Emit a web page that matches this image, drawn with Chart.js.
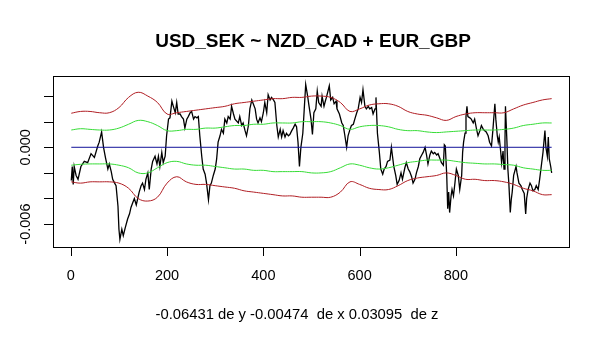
<!DOCTYPE html>
<html lang="es">
<head>
<meta charset="UTF-8">
<title>USD_SEK ~ NZD_CAD + EUR_GBP</title>
<script src="https://cdn.jsdelivr.net/npm/chart.js"></script>
<style>
	body { margin: 0; background: #fff; }
	#wrap { width: 593px; height: 343px; }
</style>
</head>
<body>
<div id="wrap"><canvas id="myChart" width="593" height="343"></canvas></div>
<script>
// texts
const titleText = 'USD_SEK ~ NZD_CAD + EUR_GBP';
const subText = '-0.06431 de y -0.00474  de x 0.03095  de z';

// axis ticks
const xTicks = [0, 200, 400, 600, 800];
const yTicks = [-0.006, -0.004, -0.002, 0, 0.002, 0.004];
const yLabels = ['-0.006', '', '', '0.000', '', ''];

// residual series (index, value)
const resX = [1,3,5,7,11,15,21,28,35,42,49,56,59,64,68,72,77,80,84,87,91,94,98,100,102,106,109,113,118,122,125,129,132,136,139,142,146,149,153,156,160,163,167,170,175,
	179,182,185,189,192,196,199,203,206,210,213,217,220,223,227,230,234,237,241,244,248,251,255,258,262,265,268,272,275,279,282,286,289,292,296,300,303,306,310,313,317,320,324,327,331,334,338,341,348,
	351,355,358,362,365,369,372,376,379,383,386,389,393,396,400,403,407,410,414,417,421,424,428,431,435,438,441,445,448,452,455,459,462,466,469,472,475,478,482,485,488,492,495,499,502,505,509,512,515,520,522,526,
	528,531,537,540,544,547,551,553,558,563,566,569,573,576,580,583,587,590,594,597,601,604,607,611,614,618,621,625,628,632,634,637,641,644,648,651,655,658,663,666,668,671,675,678,682,686,689,694,697,701,704,
	708,711,715,718,722,725,729,732,736,739,742,746,749,753,756,760,763,767,770,774,776,778,781,783,785,787,790,792,795,798,801,805,808,812,814,816,819,821,823,825,829,832,836,839,843,846,850,853,857,860,863,867,870,874,877,
	881,883,886,888,890,893,895,898,900,902,903,906,908,910,913,915,917,920,925,927,931,935,938,942,945,947,950,954,957,960,964,967,971,974,978,981,985,987,990,992,994,997,999];
const resY = [-0.0026,-0.0015,-0.0029,-0.0015,-0.0022,-0.0025,-0.0015,-0.0011,-0.0012,-0.0005,-0.0008,0.0001,0.0004,0.0012,0.0000,-0.0008,-0.0017,-0.0013,-0.0019,-0.0025,-0.0028,-0.0030,-0.0046,-0.0064,-0.0072,-0.0064,-0.0069,-0.0063,-0.0056,-0.0052,-0.0047,-0.0043,-0.0040,-0.0045,-0.0040,-0.0035,-0.0030,-0.0028,-0.0033,-0.0025,-0.0020,-0.0033,-0.0017,-0.0011,-0.0007,
	-0.0013,-0.0007,-0.0015,-0.0004,-0.0012,-0.0007,0.0009,0.0022,0.0023,0.0036,0.0032,0.0027,0.0035,0.0026,0.0026,0.0024,0.0022,0.0015,0.0022,0.0024,0.0027,0.0028,0.0022,0.0024,0.0023,0.0024,0.0009,-0.0007,-0.0017,-0.0021,-0.0028,-0.0041,-0.0030,-0.0028,-0.0022,-0.0017,-0.0009,0.0004,0.0009,0.0014,0.0011,0.0022,0.0019,0.0024,0.0022,0.0032,0.0026,0.0022,0.0019,
	0.0024,0.0017,0.0019,0.0013,0.0009,0.0017,0.0030,0.0037,0.0034,0.0030,0.0022,0.0019,0.0023,0.0020,0.0027,0.0035,0.0027,0.0041,0.0037,0.0039,0.0037,0.0035,0.0017,0.0008,0.0014,0.0008,0.0013,0.0008,0.0011,0.0009,0.0010,0.0013,0.0015,0.0018,0.0016,0.0004,-0.0015,0.0000,0.0011,0.0030,0.0049,0.0040,0.0032,0.0022,0.0010,0.0027,0.0030,0.0044,0.0035,0.0032,0.0040,0.0032,
	0.0035,0.0039,0.0048,0.0037,0.0039,0.0034,0.0036,0.0030,0.0026,0.0019,0.0017,0.0010,0.0000,0.0009,0.0014,0.0017,0.0018,0.0022,0.0027,0.0030,0.0039,0.0035,0.0045,0.0032,0.0030,0.0032,0.0030,0.0031,0.0026,0.0030,0.0039,0.0011,-0.0004,-0.0017,-0.0021,-0.0017,-0.0015,-0.0011,-0.0010,0.0000,-0.0006,-0.0015,-0.0022,-0.0029,-0.0026,-0.0020,-0.0025,-0.0016,-0.0012,-0.0017,-0.0019,
	-0.0023,-0.0028,-0.0025,-0.0020,-0.0015,-0.0009,-0.0006,-0.0004,0.0000,-0.0006,-0.0013,-0.0006,-0.0003,-0.0005,-0.0004,-0.0006,-0.0005,-0.0009,-0.0012,-0.0014,0.0002,0.0001,-0.0022,-0.0048,-0.0035,-0.0051,-0.0038,-0.0033,-0.0038,-0.0028,-0.0017,-0.0022,-0.0033,-0.0022,-0.0004,0.0004,0.0011,0.0024,0.0032,0.0024,0.0023,0.0022,0.0019,0.0022,0.0014,0.0009,0.0013,0.0017,0.0014,0.0013,0.0012,0.0009,0.0004,0.0001,0.0014,
	0.0034,0.0022,0.0009,0.0004,0.0008,-0.0003,-0.0012,-0.0003,-0.0017,0.0005,0.0032,0.0005,-0.0017,-0.0028,-0.0051,-0.0041,-0.0035,-0.0022,-0.0015,-0.0020,-0.0028,-0.0030,-0.0033,-0.0036,-0.0052,-0.0040,-0.0033,-0.0028,-0.0030,-0.0034,-0.0033,-0.0030,-0.0033,-0.0025,-0.0013,-0.0004,0.0013,0.0000,-0.0007,0.0008,-0.0009,-0.0015,-0.0020];

// bands, sampled on a common index grid
const bandX = [1,20,40,60,80,100,120,140,160,180,200,220,240,260,280,300,320,340,360,380,400,420,440,460,480,500,520,540,560,580,600,620,640,660,680,700,720,740,760,780,800,820,840,860,880,900,920,940,960,980,999];
const redUpper = [0.00266,0.0028,0.0028,0.0027,0.0027,0.0031,0.0039,0.0043,0.0040,0.0035,0.0026,0.0027,0.0028,0.0029,0.0030,0.0031,0.0032,0.0034,0.0035,0.0036,0.0037,0.0038,0.0038,0.0039,0.0039,0.0040,0.0040,0.0039,0.0035,0.0028,0.0030,0.0033,0.0034,0.0034,0.0032,0.0028,0.0026,0.0025,0.0023,0.0021,0.0024,0.0026,0.0027,0.0027,0.0027,0.0027,0.0030,0.0033,0.0035,0.0037,0.0038];
const greenUpper = [0.00135,0.00145,0.0014,0.00135,0.00135,0.0015,0.0018,0.0021,0.0020,0.0017,0.0013,0.0013,0.0014,0.0014,0.0015,0.0015,0.0016,0.0017,0.0017,0.0018,0.0018,0.0019,0.0019,0.0019,0.0020,0.0020,0.0020,0.0019,0.0017,0.0014,0.0016,0.0017,0.0017,0.0016,0.0014,0.0013,0.0013,0.0012,0.00115,0.0012,0.00125,0.0013,0.00135,0.00135,0.00135,0.0014,0.0015,0.0017,0.0018,0.0019,0.0019];
const greenLower = [-0.0014,-0.00133,-0.0013,-0.0013,-0.0013,-0.0014,-0.0016,-0.0020,-0.0020,-0.0016,-0.0012,-0.0011,-0.0013,-0.0014,-0.0014,-0.0015,-0.0016,-0.0017,-0.0017,-0.0018,-0.0018,-0.0019,-0.0019,-0.0019,-0.0019,-0.0020,-0.0020,-0.0019,-0.0016,-0.0013,-0.0014,-0.0016,-0.0017,-0.0016,-0.0014,-0.0012,-0.0011,-0.0010,-0.0010,-0.0010,-0.0011,-0.0012,-0.00125,-0.0013,-0.0013,-0.00135,-0.0014,-0.0016,-0.0017,-0.0018,-0.0018];
const redLower = [-0.0027,-0.0028,-0.0027,-0.0027,-0.0027,-0.0028,-0.0032,-0.0040,-0.0042,-0.0039,-0.0028,-0.0023,-0.0027,-0.0029,-0.0029,-0.0030,-0.0031,-0.0032,-0.0034,-0.0035,-0.0036,-0.0037,-0.0038,-0.0038,-0.0039,-0.0039,-0.0039,-0.0039,-0.0035,-0.0027,-0.0029,-0.0032,-0.0033,-0.0033,-0.0030,-0.0026,-0.0024,-0.0023,-0.0022,-0.0020,-0.0022,-0.0025,-0.0025,-0.0026,-0.0026,-0.0027,-0.0029,-0.0032,-0.0034,-0.0037,-0.0037];

// zero line
const zeroX = [1, 999];
const zeroY = [0, 0];

const font = '"Liberation Sans", Arial, sans-serif';
const pts = (xs, ys) => xs.map((v, i) => ({x: v, y: ys[i]}));

// frame, ticks, labels and titles in base-graphics style
const rFrame = {
	id: 'rFrame',
	afterDraw(chart) {
		const {ctx, chartArea: a, scales: {x, y}} = chart;
		ctx.save();
		ctx.strokeStyle = '#000';
		ctx.lineWidth = 1;
		ctx.strokeRect(Math.round(a.left) + 0.5, Math.round(a.top) + 0.5, Math.round(a.right - a.left), Math.round(a.bottom - a.top));
		ctx.beginPath();
		xTicks.forEach(v => {
			const px = Math.round(x.getPixelForValue(v)) + 0.5;
			ctx.moveTo(px, a.bottom);
			ctx.lineTo(px, a.bottom + 9);
		});
		yTicks.forEach(v => {
			const py = Math.round(y.getPixelForValue(v)) + 0.5;
			ctx.moveTo(a.left, py);
			ctx.lineTo(a.left - 9, py);
		});
		ctx.stroke();

		ctx.fillStyle = '#000';
		ctx.textAlign = 'center';
		ctx.textBaseline = 'middle';
		ctx.font = '14.5px ' + font;
		xTicks.forEach(v => ctx.fillText(String(v), x.getPixelForValue(v), a.bottom + 29));
		yTicks.forEach((v, i) => {
			if (!yLabels[i]) return;
			ctx.save();
			ctx.translate(26, y.getPixelForValue(v));
			ctx.rotate(-Math.PI / 2);
			ctx.fillText(yLabels[i], 0, 0);
			ctx.restore();
		});
		ctx.font = '14.8px ' + font;
		ctx.fillText(subText, 297, 315);

		ctx.font = 'bold 19px ' + font;
		ctx.fillText(titleText, 313, 42);
		ctx.restore();
	}
};

const line = (data, color, width, order, tension) => ({
	data: data,
	borderColor: color,
	borderWidth: width,
	pointRadius: 0,
	tension: tension,
	order: order
});

new Chart(document.getElementById('myChart'), {
	type: 'line',
	data: {
		datasets: [
			line(pts(zeroX, zeroY), '#12129a', 1, 1, 0),
			line(pts(bandX, redUpper), '#b01e24', 1, 2, 0.4),
			line(pts(bandX, redLower), '#b01e24', 1, 2, 0.4),
			line(pts(bandX, greenUpper), '#36dc36', 1, 3, 0.4),
			line(pts(bandX, greenLower), '#36dc36', 1, 3, 0.4),
			line(pts(resX, resY), '#000000', 1.3, 4, 0)
		]
	},
	options: {
		responsive: false,
		animation: false,
		devicePixelRatio: 1,
		layout: { padding: { left: 53, right: 24, top: 76, bottom: 96 } },
		plugins: { legend: { display: false }, tooltip: { enabled: false } },
		scales: {
			x: { type: 'linear', display: false, min: -37, max: 1035 },
			y: { type: 'linear', display: false, min: -0.00779, max: 0.00557 }
		}
	},
	plugins: [rFrame]
});
</script>
</body>
</html>
